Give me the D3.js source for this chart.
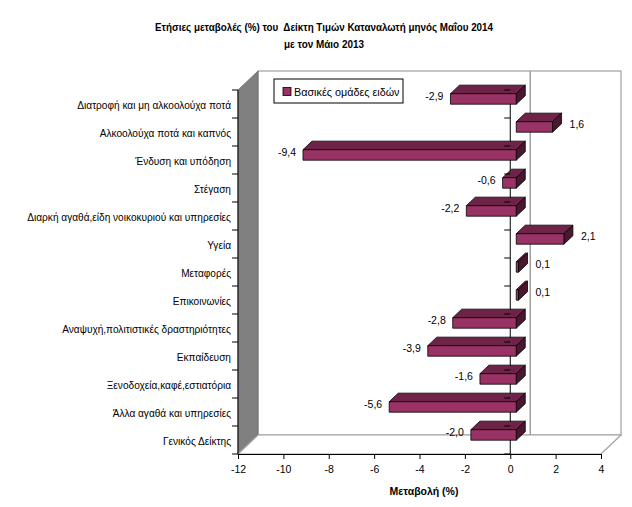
<!DOCTYPE html>
<html>
<head>
<meta charset="utf-8">
<script src="https://cdn.jsdelivr.net/npm/d3@7"></script>
<style>
html,body{margin:0;padding:0;background:#fff;}
svg{display:block;font-family:"Liberation Sans",Arial,sans-serif;}
</style>
</head>
<body>
<svg id="chart" width="632" height="507"></svg>
<script>
const titleLines = ["Ετήσιες μεταβολές (%) του  Δείκτη Τιμών Καταναλωτή μηνός Μαΐου 2014", "με τον Μάιο 2013"];
const categories = [
  "Διατροφή και μη αλκοολούχα ποτά",
  "Αλκοολούχα ποτά και καπνός",
  "Ένδυση και υπόδηση",
  "Στέγαση",
  "Διαρκή αγαθά,είδη νοικοκυριού και υπηρεσίες",
  "Υγεία",
  "Μεταφορές",
  "Επικοινωνίες",
  "Αναψυχή,πολιτιστικές δραστηριότητες",
  "Εκπαίδευση",
  "Ξενοδοχεία,καφέ,εστιατόρια",
  "Άλλα αγαθά και υπηρεσίες",
  "Γενικός Δείκτης"
];
const values = [-2.9, 1.6, -9.4, -0.6, -2.2, 2.1, 0.1, 0.1, -2.8, -3.9, -1.6, -5.6, -2.0];
const seriesName = "Βασικές ομάδες ειδών";
const xTicks = [-12, -10, -8, -6, -4, -2, 0, 2, 4];
const xTitle = "Μεταβολή (%)";

const svg = d3.select("#chart");
const fmt = d3.formatLocale({decimal: ",", thousands: ".", grouping: [3], currency: ["", "€"], minus: "-"}).format(".1f");

// geometry
const x = d3.scaleLinear().domain([-12, 4]).range([238, 601]);
const y = d3.scaleBand().domain(categories).range([90, 454]);
const DX = 20, DY = -19;           // depth offset of 3D box
const zF = 0.3, zB = 0.75;          // bar depth (front/back fractions)
const ddx = (zB - zF) * DX, ddy = (zB - zF) * DY;
const barOff = 3.7, barH = 10.5;

const colFront = "#993366", colTop = "#6e2449", colSide = "#4a1731";
const gridGrey = "#a0a0a0";

const x0 = x.range()[0], x1 = x.range()[1];
const yTop = y.range()[0], yBot = y.range()[1];

// back wall
svg.append("rect").attr("x", x0 + DX).attr("y", yTop + DY)
  .attr("width", x1 - x0).attr("height", yBot - yTop)
  .attr("fill", "#fff").attr("stroke", gridGrey).attr("stroke-width", 1.2);
// left side wall
svg.append("polygon")
  .attr("points", [[x0, yTop], [x0 + DX, yTop + DY], [x0 + DX, yBot + DY], [x0, yBot]].map(p => p.join(",")).join(" "))
  .attr("fill", "#808080").attr("stroke", "#6a6a6a").attr("stroke-width", 0.8);
// floor
svg.append("polygon")
  .attr("points", [[x0, yBot], [x0 + DX, yBot + DY], [x1 + DX, yBot + DY], [x1, yBot]].map(p => p.join(",")).join(" "))
  .attr("fill", "#fff").attr("stroke", gridGrey).attr("stroke-width", 1.2);

// back-wall gridline at zero
svg.append("line").attr("x1", x(0) + DX).attr("x2", x(0) + DX)
  .attr("y1", yTop + DY).attr("y2", yBot + DY)
  .attr("stroke", gridGrey).attr("stroke-width", 1.5);

// zero (category) axis line
svg.append("line").attr("x1", x(0)).attr("x2", x(0))
  .attr("y1", yTop).attr("y2", yBot).attr("stroke", "#000").attr("stroke-width", 1);

// bars
const bars = svg.append("g");
categories.forEach((c, i) => {
  const v = values[i];
  const xa = x(Math.min(v, 0)) + zF * DX, xb = x(Math.max(v, 0)) + zF * DX;
  const yt = y(c) + barOff, yb = yt + barH;
  const g = bars.append("g").attr("stroke", "#000").attr("stroke-width", 0.8).attr("stroke-linejoin", "round");
  g.append("polygon").attr("fill", colTop)
    .attr("points", [[xa, yt], [xb, yt], [xb + ddx, yt + ddy], [xa + ddx, yt + ddy]].map(p => p.join(",")).join(" "));
  g.append("polygon").attr("fill", colSide)
    .attr("points", [[xb, yt], [xb + ddx, yt + ddy], [xb + ddx, yb + ddy], [xb, yb]].map(p => p.join(",")).join(" "));
  g.append("rect").attr("fill", colFront).attr("x", xa).attr("y", yt).attr("width", Math.max(xb - xa, 0.5)).attr("height", barH);
});

// zero axis ticks (drawn over bars)
const zt = svg.append("g");
[...categories.map(c => y(c)), yBot].forEach(t => {
  zt.append("line").attr("x1", x(0) - 6).attr("x2", x(0)).attr("y1", t).attr("y2", t).attr("stroke", "#000");
});

// data labels
const labels = svg.append("g").attr("font-size", 10.5).attr("fill", "#000");
categories.forEach((c, i) => {
  const v = values[i];
  const cy = y(c) + y.bandwidth() / 2 - 8.5;
  if (v < 0) {
    labels.append("text").attr("x", x(v) + zF * DX - 7).attr("y", cy)
      .attr("text-anchor", "end").attr("dominant-baseline", "central").text(fmt(v));
  } else {
    labels.append("text").attr("x", x(v) + zF * DX + 17).attr("y", cy)
      .attr("text-anchor", "start").attr("dominant-baseline", "central").text(fmt(v));
  }
});

// left (category) axis
const la = svg.append("g");
la.append("line").attr("x1", x0).attr("x2", x0).attr("y1", yTop).attr("y2", yBot).attr("stroke", "#000");
[...categories.map(c => y(c)), yBot].forEach(t => {
  la.append("line").attr("x1", x0 - 6).attr("x2", x0).attr("y1", t).attr("y2", t).attr("stroke", "#000");
});
categories.forEach(c => {
  la.append("text").attr("x", x0 - 7).attr("y", y(c) + y.bandwidth() / 2 + 1.5)
    .attr("text-anchor", "end").attr("dominant-baseline", "central")
    .attr("font-size", 10.1).text(c);
});

// bottom value axis
const ax = svg.append("g").attr("transform", `translate(0,${yBot})`)
  .call(d3.axisBottom(x).tickValues(xTicks).tickFormat(d => fmt(d).replace(",0", "")).tickSize(5).tickSizeOuter(0));
ax.select(".domain").attr("stroke", "#000");
ax.selectAll(".tick line").attr("stroke", "#000");
ax.selectAll(".tick text").attr("font-size", 10.5).attr("font-family", "Liberation Sans, Arial, sans-serif").attr("fill", "#000").attr("dy", "1.0em");

svg.append("text").attr("x", 424).attr("y", 491).attr("text-anchor", "middle")
  .attr("dominant-baseline", "central").attr("font-size", 10.5).attr("font-weight", "bold").text(xTitle);

// title
const titleWidths = [338, 80];
titleLines.forEach((t, i) => {
  svg.append("text").attr("x", 324).attr("y", 27 + i * 16.5).attr("text-anchor", "middle")
    .attr("dominant-baseline", "central").attr("font-size", 10.5).attr("font-weight", "bold")
    .attr("textLength", titleWidths[i]).attr("lengthAdjust", "spacingAndGlyphs")
    .attr("xml:space", "preserve").style("white-space", "pre").text(t);
});

// legend
const lg = svg.append("g");
lg.append("rect").attr("x", 274).attr("y", 79).attr("width", 129).attr("height", 24)
  .attr("fill", "#fff").attr("stroke", "#000").attr("stroke-width", 1);
lg.append("rect").attr("x", 283).attr("y", 87.5).attr("width", 8).attr("height", 8)
  .attr("fill", colFront).attr("stroke", "#000").attr("stroke-width", 0.8);
lg.append("text").attr("x", 294).attr("y", 91.5).attr("dominant-baseline", "central")
  .attr("font-size", 10.8).text(seriesName);
</script>
</body>
</html>
